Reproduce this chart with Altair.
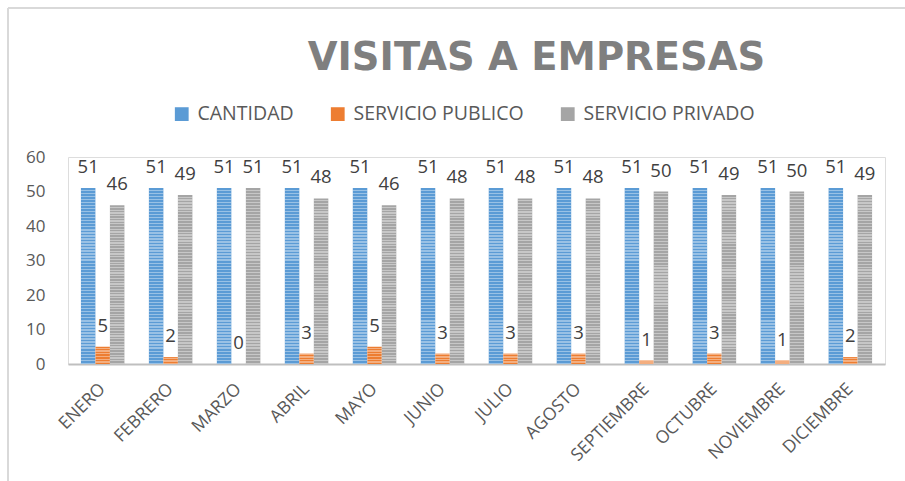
import altair as alt
import pandas as pd

FONT = "Open Sans"

months = ["ENERO", "FEBRERO", "MARZO", "ABRIL", "MAYO", "JUNIO", "JULIO",
          "AGOSTO", "SEPTIEMBRE", "OCTUBRE", "NOVIEMBRE", "DICIEMBRE"]
series = ["CANTIDAD", "SERVICIO PUBLICO", "SERVICIO PRIVADO"]
cantidad = [51, 51, 51, 51, 51, 51, 51, 51, 51, 51, 51, 51]
publico = [5, 2, 0, 3, 5, 3, 3, 3, 1, 3, 1, 2]
privado = [46, 49, 51, 48, 46, 48, 48, 48, 50, 49, 50, 49]
colors = ["#5B9BD5", "#ED7D31", "#A5A5A5"]
y_ticks = [0, 10, 20, 30, 40, 50, 60]

rows = []
for name, vals in zip(series, [cantidad, publico, privado]):
    for m, v in zip(months, vals):
        rows.append({"mes": m, "serie": name, "valor": v})
df = pd.DataFrame(rows)

x_enc = alt.X(
    "mes:N", sort=months,
    scale=alt.Scale(paddingInner=0.36, paddingOuter=0.19),
    axis=alt.Axis(title=None, labelAngle=-45, labelFontSize=17.5, labelFont=FONT,
                  labelColor="#595959", domainColor="#BFBFBF", domainWidth=2,
                  ticks=False, labelPadding=22, labelAlign="right",
                  labelBaseline="middle"),
)
xo_enc = alt.XOffset("serie:N", sort=series,
                     scale=alt.Scale(paddingInner=0, paddingOuter=0))
y_enc = alt.Y("valor:Q", scale=alt.Scale(domain=[0, 60], nice=False),
              axis=alt.Axis(values=y_ticks, title=None, grid=False, domain=False,
                            ticks=False, labelFontSize=17, labelFont=FONT,
                            labelOverlap=False, labelFlush=False,
                            labelPadding=23, labelColor="#595959"))

base = alt.Chart(df).encode(x=x_enc, xOffset=xo_enc, y=y_enc)

bars = base.mark_bar().encode(
    color=alt.Color("serie:N", sort=series,
                    scale=alt.Scale(domain=series, range=colors),
                    legend=alt.Legend(title=None, orient="none", direction="horizontal",
                                      legendX=104, legendY=-53,
                                      symbolType="square", symbolSize=190,
                                      symbolStrokeWidth=0,
                                      labelFontSize=19.5, labelFont=FONT,
                                      labelLimit=400,
                                      labelColor="#595959", labelOffset=6,
                                      columnPadding=34)),
)

# horizontal stripe texture (light lines over the fill)
N_STRIPES = 58
stops = []
for i in range(N_STRIPES):
    a = i / N_STRIPES
    m = (i + 0.55) / N_STRIPES
    b = (i + 1) / N_STRIPES
    stops += [alt.GradientStop(offset=a, color="rgba(255,255,255,0)"),
              alt.GradientStop(offset=m, color="rgba(255,255,255,0)"),
              alt.GradientStop(offset=m, color="rgba(255,255,255,0.38)"),
              alt.GradientStop(offset=b, color="rgba(255,255,255,0.38)")]
stripes = base.mark_bar(
    color=alt.Gradient(gradient="linear", x1=0, y1=0, x2=0, y2=1, stops=stops)
)

labels = base.mark_text(baseline="alphabetic", dy=-15, fontSize=18.5, font=FONT,
                        color="#404040").encode(
    text=alt.Text("valor:Q"),
)

frame_df = pd.DataFrame({"k": [0]})
frame_left = alt.Chart(frame_df).mark_rule(color="#D9D9D9", strokeWidth=2).encode(
    x=alt.value(-60), y=alt.value(-149), y2=alt.value(330))
frame_top = alt.Chart(frame_df).mark_rule(color="#D9D9D9", strokeWidth=2).encode(
    x=alt.value(-60), x2=alt.value(850), y=alt.value(-149))

chart = alt.layer(frame_left, frame_top, bars, stripes, labels).properties(
    width=817, height=207,
    title=alt.TitleParams("VISITAS A EMPRESAS", fontSize=38.5, fontWeight="bold",
                          font="DejaVu Sans", color="#7F7F7F", anchor="middle", dx=60,
                          offset=-101, baseline="alphabetic",
                          frame="group"),
    autosize=alt.AutoSizeParams(type="none"),
    padding={"left": 68, "top": 157, "right": 20, "bottom": 117},
).configure_view(stroke=None).configure_axisY(labelOverlap=False).configure(background="white")

chart.save("out.html", embed_options={"renderer": "svg", "actions": False})
